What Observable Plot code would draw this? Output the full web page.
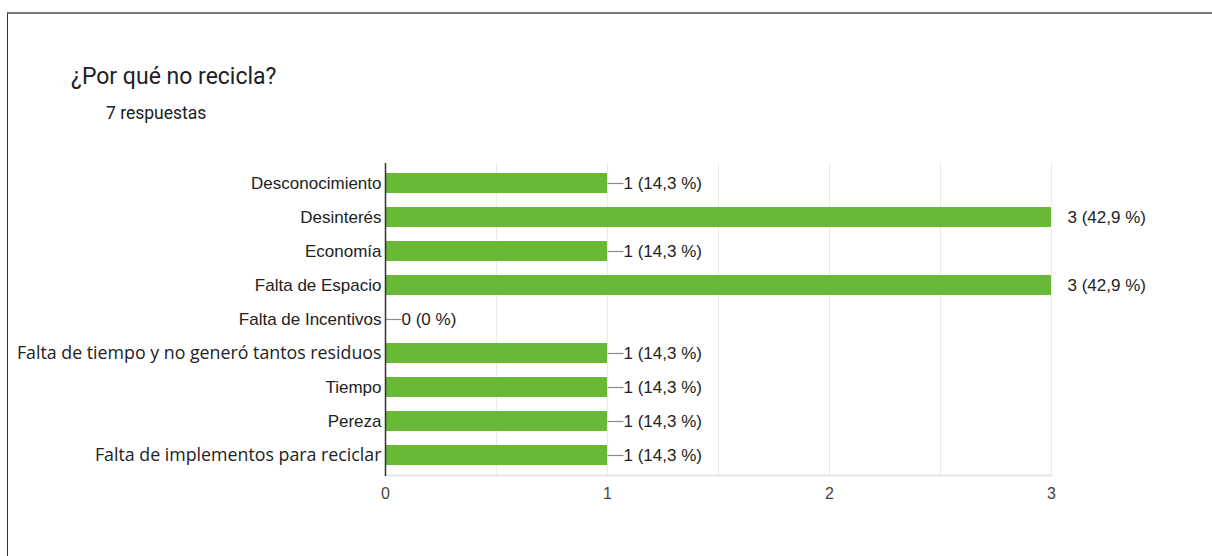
<!DOCTYPE html>
<html>
<head>
<meta charset="utf-8">
<script src="https://cdn.jsdelivr.net/npm/d3@7"></script>
<script src="https://cdn.jsdelivr.net/npm/@observablehq/plot@0.6"></script>
<style>
  html, body { margin: 0; padding: 0; background: #fff; }
  #page { position: relative; width: 1212px; height: 556px; overflow: hidden; }
  #frame { position: absolute; left: 7px; top: 12px; width: 1205px; height: 544px;
           border-top: 2px solid #777; border-left: 1px solid #333; box-sizing: border-box; }
  #title { position: absolute; left: 71px; top: 65px; font-family: Roboto, "Liberation Sans", Arial, sans-serif;
           font-size: 23px; line-height: 23px; color: #202124; white-space: nowrap; }
  #subtitle { position: absolute; left: 106px; top: 105px; font-family: Roboto, "Liberation Sans", Arial, sans-serif;
           font-size: 17.5px; line-height: 17.5px; color: #202124; white-space: nowrap; }
  #chart { position: absolute; left: 0; top: 140px; }
</style>
</head>
<body>
<div id="page">
  <div id="frame"></div>
  <div id="title">¿Por qué no recicla?</div>
  <div id="subtitle">7 respuestas</div>
  <div id="chart"></div>
</div>
<script>
const categories = [
  "Desconocimiento",
  "Desinterés",
  "Economía",
  "Falta de Espacio",
  "Falta de Incentivos",
  "Falta de tiempo y no generó tantos residuos",
  "Tiempo",
  "Pereza",
  "Falta de implementos para reciclar"
];
const counts = [1, 3, 1, 3, 0, 1, 1, 1, 1];
const valueLabels = [
  "1 (14,3 %)", "3 (42,9 %)", "1 (14,3 %)", "3 (42,9 %)", "0 (0 %)",
  "1 (14,3 %)", "1 (14,3 %)", "1 (14,3 %)", "1 (14,3 %)"
];
// free-text ("otro") answers, shown in a different typeface in the reference
const otherAnswers = [
  "Falta de tiempo y no generó tantos residuos",
  "Falta de implementos para reciclar"
];
const xTicks = [0, 1, 2, 3];
const xGrid = [0.5, 1, 1.5, 2, 2.5, 3];

const data = categories.map((c, i) => ({category: c, count: counts[i], label: valueLabels[i]}));
const maxCount = d3.max(counts);
const normalCats = categories.filter(c => !otherAnswers.includes(c));

const connector = {
  draw(context) {
    context.moveTo(0, 0);
    context.lineTo(16, 0);
  }
};

const chart = Plot.plot({
  width: 1212,
  height: 400,
  marginLeft: 385,
  marginRight: 161,
  marginTop: 23,
  marginBottom: 65,
  style: {fontFamily: "'Liberation Sans', Arial, sans-serif", background: "transparent"},
  x: {domain: [0, 3]},
  y: {domain: categories, paddingInner: 0.4, paddingOuter: 0.2},
  marks: [
    Plot.gridX(xGrid, {stroke: "#ebebeb", strokeOpacity: 1}),
    Plot.frame({anchor: "bottom", stroke: "#e6e6e6", strokeWidth: 2}),
    Plot.barX(data, {x: "count", y: "category", fill: "#6ab936"}),
    Plot.dot(data.filter(d => d.count < maxCount), {x: "count", y: "category", symbol: connector,
      stroke: "#8a8a8a", strokeWidth: 1.2, fill: "none", r: 4}),
    Plot.text(data, {x: "count", y: "category", text: "label", dx: 16, textAnchor: "start",
      fontSize: 17, fill: "#222"}),
    Plot.ruleX([0], {stroke: "#333", strokeWidth: 1.5, insetBottom: -1}),
    Plot.axisY(normalCats, {tickSize: 0, tickPadding: 4, fontSize: 17, fill: "#222", label: null}),
    Plot.axisY(otherAnswers, {tickSize: 0, tickPadding: 4, fontSize: 17.8, fill: "#222", label: null,
      fontFamily: "'Open Sans', sans-serif"}),
    Plot.axisX(xTicks, {tickSize: 0, tickPadding: 12, fontSize: 16, fill: "#444", label: null, tickFormat: d => String(d)})
  ]
});
document.getElementById("chart").appendChild(chart);
</script>
</body>
</html>
